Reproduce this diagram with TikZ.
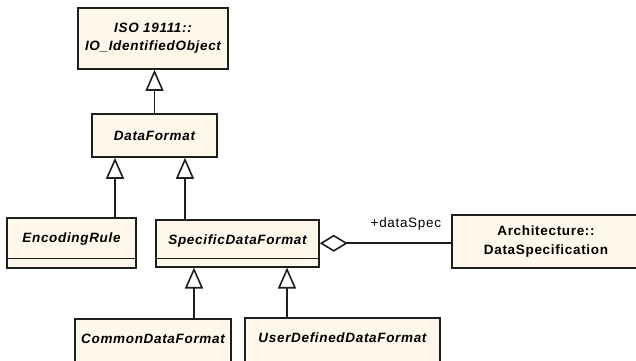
\documentclass[tikz,border=0pt]{standalone}
\usepackage{fontspec}
\setmainfont{Liberation Sans}
\newfontfamily\umlfont[LetterSpace=5]{Liberation Sans}
\usetikzlibrary{arrows.meta}
\definecolor{classfill}{RGB}{254,248,234}
\definecolor{classline}{RGB}{30,30,30}
\begin{document}
\begin{tikzpicture}[x=1pt,y=-1pt]

    \tikzset{
      umlclass/.style={
        draw=classline,
        fill=classfill,
        line width=1.5pt,
        inner sep=0pt,
        font=\umlfont\fontsize{13.5}{18}\selectfont\bfseries\itshape,
      },
      topname/.style={
        umlclass,
        anchor=north,
        text height=24.5pt,
      },
      inherit/.style={
        draw=classline,
        line width=1.6pt,
        -{Triangle[length=21pt,width=18pt,fill=white]},
      },
      aggregate/.style={
        draw=classline,
        line width=1.6pt,
        {Diamond[length=28pt,width=17pt,fill=white]}-,
      },
      compartment/.style={
        draw=classline,
        line width=1.5pt,
      },
    }
    \useasboundingbox (0,0) rectangle (636,360);

    % classes
    \node[umlclass, minimum width=150pt, minimum height=61pt, align=center] (identified) at (153,38.5) {ISO 19111::\\IO\_IdentifiedObject};
    \node[umlclass, minimum width=125pt, minimum height=43pt] (dataformat) at (154.5,135.5) {DataFormat};
    \node[topname, minimum width=129pt, text depth=25.5pt] (encoding) at (71.5,217) {EncodingRule};
    \node[topname, minimum width=163pt, text depth=22.5pt] (specific) at (237.5,219) {SpecificDataFormat};
    \node[topname, minimum width=156pt, text depth=40pt] (common) at (153,318) {CommonDataFormat};
    \node[topname, minimum width=195pt, text depth=40pt] (userdef) at (342.5,317) {UserDefinedDataFormat};
    \node[umlclass, minimum width=188pt, minimum height=53pt, align=center, font=\umlfont\fontsize{13.5}{19}\selectfont\bfseries] (dataspec) at (546,241.5) {Architecture::\\DataSpecification};

    % empty compartments
    \draw[compartment] ([yshift=10pt]encoding.south west) -- ([yshift=10pt]encoding.south east);
    \draw[compartment] ([yshift=9pt]specific.south west) -- ([yshift=9pt]specific.south east);

    % generalisations
    \draw[inherit] (dataformat.north) -- (dataformat.north |- identified.south);
    \draw[inherit] ([xshift=43.5pt]encoding.north) -- ([xshift=43.5pt]encoding.north |- dataformat.south);
    \draw[inherit] ([xshift=-52.5pt]specific.north) -- ([xshift=-52.5pt]specific.north |- dataformat.south);
    \draw[inherit] ([xshift=41pt]common.north) -- ([xshift=41pt]common.north |- specific.south);
    \draw[inherit] ([xshift=-55.5pt]userdef.north) -- ([xshift=-55.5pt]userdef.north |- specific.south);

    % aggregation
    \draw[aggregate] (specific.east) -- (specific.east -| dataspec.west);
    \node[anchor=base east, inner sep=0pt, font=\umlfont\fontsize{13.5}{16}\selectfont] (dataspecrole) at ([xshift=-10pt,yshift=14.5pt]dataspec.west) {+dataSpec};

\end{tikzpicture}
\end{document}
